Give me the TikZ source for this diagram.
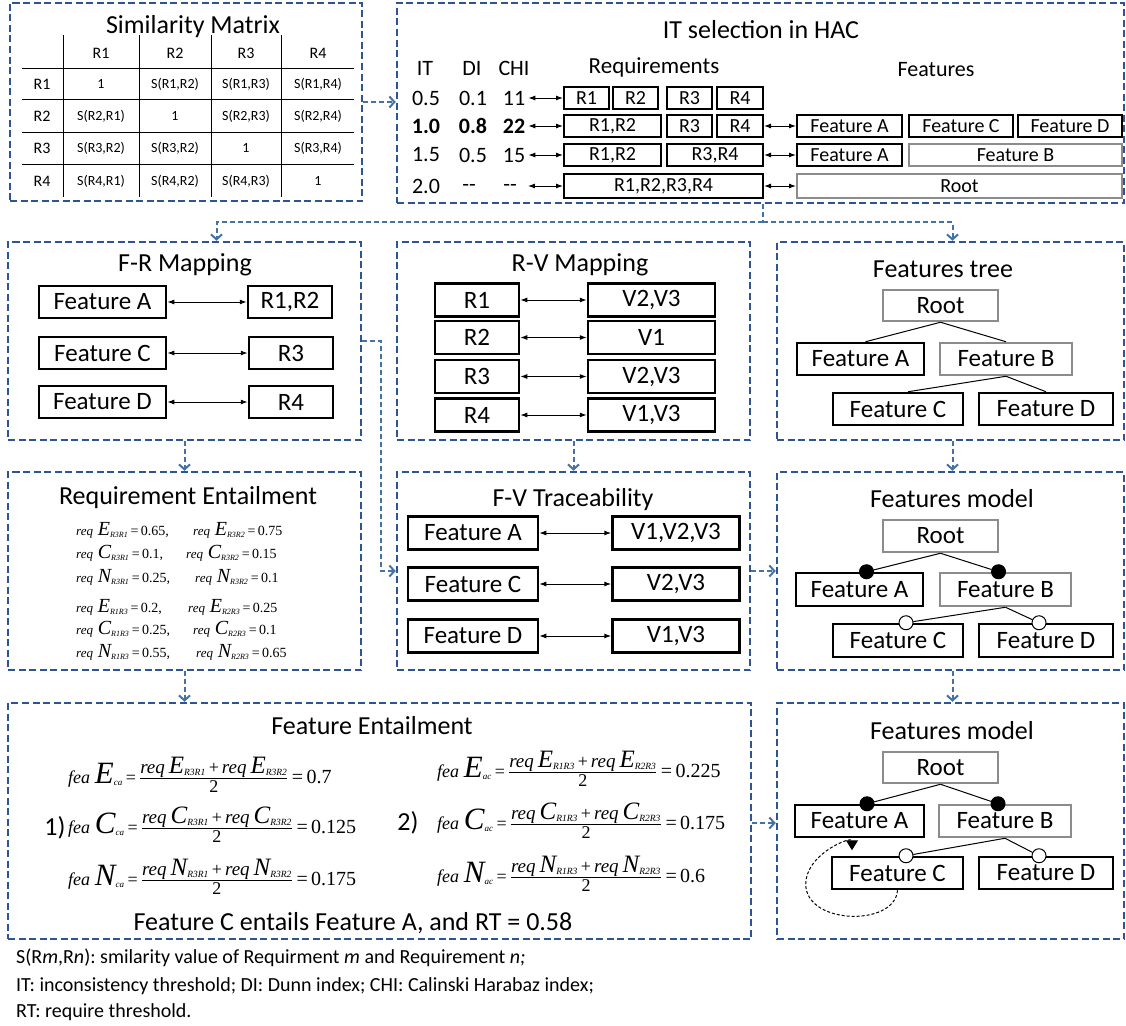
\documentclass[tikz,border=0pt]{standalone}
\usepackage{amsmath}
\usepackage{fontspec}
\setmainfont{Carlito}
\newfontfamily\tmsfont{Liberation Serif}
\usetikzlibrary{arrows.meta, positioning}
\definecolor{PanelBlue}{RGB}{47,84,150}
\definecolor{LinkBlue}{RGB}{68,114,165}
\definecolor{BoxGray}{RGB}{140,140,140}
\newcommand{\fsz}[1]{\fontsize{#1}{#1}\selectfont}
% Times pieces for the formulas
\newcommand{\tmi}[2]{\text{\tmsfont\itshape\fontsize{#1}{#1}\selectfont #2}}
\newcommand{\tmu}[2]{\text{\tmsfont\fontsize{#1}{#1}\selectfont #2}}
\newcommand{\reqv}[2]{\tmi{13}{req}\mkern6mu\tmi{20}{#1}_{\tmi{8}{#2}}}
\newcommand{\numv}[2]{\tmi{19}{req}\mkern6mu\tmi{25}{#1}_{\tmi{9.5}{#2}}}
\newcommand{\feav}[2]{\tmi{18}{fea}\mkern5mu\tmi{31}{#1}_{\tmi{9}{#2}}}
\newcommand{\avgv}[3]{\genfrac{}{}{1pt}{1}{\numv{#1}{#2}\tmu{18}{\,+\,}\numv{#1}{#3}}{\tmu{18}{2}}}
\tikzset{
  panel/.style={draw=PanelBlue, line width=2.5pt, dash pattern=on 7pt off 3.5pt, inner sep=0pt},
  link/.style={draw=LinkBlue, line width=2pt, dash pattern=on 5pt off 3pt,
    -{Straight Barb[length=5pt,width=11pt]}},
  ttl/.style={font=\fsz{26}},
  fbox/.style={draw, line width=2.5pt, inner sep=0pt, minimum height=32pt, font=\fsz{25}},
  gfbox/.style={fbox, draw=BoxGray},
  ibox/.style={draw, line width=2pt, inner sep=0pt, minimum height=22pt, font=\fsz{20}},
  gibox/.style={ibox, draw=BoxGray},
  itval/.style={font=\fsz{22}, inner sep=0pt},
  map/.style={line width=1pt, {Latex[length=7pt,width=5pt]}-{Latex[length=7pt,width=5pt]}},
  tree/.style={line width=1pt},
  hdr/.style={font=\fsz{16}},
  cell/.style={font=\fsz{14}},
  grid/.style={line width=1pt},
  fml/.style={inner sep=0pt, anchor=base west},
  mand/.style={circle, draw, line width=1pt, fill=black, minimum size=14pt, inner sep=0pt},
  opt/.style={mand, fill=white},
  note/.style={font=\fsz{20}\frenchspacing, anchor=west, inner sep=0pt}
}

\begin{document}
\begin{tikzpicture}[x=1pt, y=-1pt]
\useasboundingbox (0,0) rectangle (1126,1025);

% panels
\node[panel, minimum width=352pt, minimum height=198pt] (sim) at (186,102) {};
\node[panel, minimum width=727pt, minimum height=200pt] (it)  at (760.5,103) {};
\node[panel, minimum width=353pt, minimum height=198pt] (fr)  at (184.5,341) {};
\node[panel, minimum width=353pt, minimum height=198pt] (rv)  at (573.5,341) {};
\node[panel, minimum width=347pt, minimum height=198pt] (ft)  at (950.5,341) {};
\node[panel, minimum width=353pt, minimum height=198pt] (re)  at (184.5,571) {};
\node[panel, minimum width=353pt, minimum height=198pt] (fv)  at (573.5,571) {};
\node[panel, minimum width=347pt, minimum height=198pt] (fma) at (950.5,571) {};
\node[panel, minimum width=743pt, minimum height=236pt] (fe)  at (379.5,821) {};
\node[panel, minimum width=347pt, minimum height=236pt] (fmb) at (950.5,821) {};

% similarity matrix
\node[ttl] (simT) at (193,27) {Similarity Matrix};
\foreach \x in {63,139,211,281} \draw[grid] (\x,35) -- (\x,197);
\foreach \y in {68,99,132,164} \draw[grid] (22,\y) -- (354,\y);
\foreach \lab/\x in {R1/101,R2/175,R3/246,R4/318} \node[hdr] (col\lab) at (\x,53) {\lab};
\foreach \lab/\y in {R1/84,R2/116,R3/148,R4/181} \node[hdr] (row\lab) at (42,\y) {\lab};
\foreach \y/\r/\sa/\sb/\sc/\sd in {
    84/1/1/{S(R1,R2)}/{S(R1,R3)}/{S(R1,R4)},
    116/2/{S(R2,R1)}/1/{S(R2,R3)}/{S(R2,R4)},
    148/3/{S(R3,R2)}/{S(R3,R2)}/1/{S(R3,R4)},
    181/4/{S(R4,R1)}/{S(R4,R2)}/{S(R4,R3)}/1} {
  \node[cell] (s\r a) at (101,\y) {\sa};
  \node[cell] (s\r b) at (175,\y) {\sb};
  \node[cell] (s\r c) at (246,\y) {\sc};
  \node[cell] (s\r d) at (318,\y) {\sd};
}

% IT selection in HAC
\node[ttl] (itT) at (761,30) {IT selection in HAC};
\node[itval] (hIT)  at (425,68) {IT};
\node[itval] (hDI)  at (472,68) {DI};
\node[itval] (hCHI) at (514,68) {CHI};
\node[font=\fsz{23}] (hReq)  at (654,67) {Requirements};
\node[font=\fsz{22}] (hFeat) at (936,70) {Features};

\node[itval] (ita) at (426,98) {0.5};
\node[itval] (dia) at (473,98) {0.1};
\node[itval] (chia) at (514,98) {11};
\node[itval, font=\fsz{22}\bfseries] (itb) at (426,126) {1.0};
\node[itval, font=\fsz{22}\bfseries] (dib) at (473,126) {0.8};
\node[itval, font=\fsz{22}\bfseries] (chib) at (514,126) {22};
\node[itval] (itc) at (426,155) {1.5};
\node[itval] (dic) at (473,155) {0.5};
\node[itval] (chic) at (514,155) {15};
\node[itval] (itd) at (426,186) {2.0};
\node[itval] (did) at (469,188) {{-}{-}};
\node[itval] (chid) at (510,188) {{-}{-}};

\node[ibox, minimum width=45pt] (ra1) at (586.5,98) {R1};
\node[ibox, minimum width=45pt] (ra2) at (635.5,98) {R2};
\node[ibox, minimum width=45pt] (ra3) at (689.5,98) {R3};
\node[ibox, minimum width=46pt] (ra4) at (740,98) {R4};

\node[ibox, minimum width=97pt]  (rb12) at (612.5,126) {R1,R2};
\node[ibox, minimum width=45pt]  (rb3)  at (689.5,126) {R3};
\node[ibox, minimum width=46pt]  (rb4)  at (740,126) {R4};
\node[ibox, minimum width=105pt] (fbA)  at (849.5,126) {Feature A};
\node[ibox, minimum width=104pt] (fbC)  at (961,126) {Feature C};
\node[ibox, minimum width=104pt] (fbD)  at (1070,126) {Feature D};

\node[ibox, minimum width=97pt]   (rc12) at (612.5,155) {R1,R2};
\node[ibox, minimum width=96pt]   (rc34) at (715,155) {R3,R4};
\node[ibox, minimum width=105pt]  (fcA)  at (849.5,155) {Feature A};
\node[gibox, minimum width=213pt] (fcB)  at (1015.5,155) {Feature B};

\node[ibox, minimum width=199pt, minimum height=24pt]  (rd)    at (663.5,186) {R1,R2,R3,R4};
\node[gibox, minimum width=325pt, minimum height=24pt] (fdRt)  at (959.5,186) {Root};

\draw[map] ([xshift=3pt]chia.east) -- (ra1.west);
\draw[map] ([xshift=3pt]chib.east) -- (rb12.west);
\draw[map] ([xshift=3pt]chic.east) -- (rc12.west);
\draw[map] ([xshift=11pt,yshift=2pt]chid.east) -- (rd.west);
\draw[map] (rb4.east) -- (fbA.west);
\draw[map] (rc34.east) -- (fcA.west);
\draw[map] (rd.east) -- (fdRt.west);

% F-R mapping
\node[ttl] (frT) at (185,265) {F-R Mapping};
\node[fbox, minimum width=127pt] (frA) at (102.5,302) {Feature A};
\node[fbox, minimum width=84pt]  (fr1) at (290,302) {R1,R2};
\node[fbox, minimum width=127pt] (frC) at (102.5,353) {Feature C};
\node[fbox, minimum width=84pt]  (fr3) at (291,353) {R3};
\node[fbox, minimum width=127pt] (frD) at (102.5,402) {Feature D};
\node[fbox, minimum width=84pt]  (fr4) at (291,402) {R4};
\draw[map] (frA) -- (fr1);
\draw[map] (frC) -- (fr3);
\draw[map] (frD) -- (fr4);

% R-V mapping
\node[ttl] (rvT) at (580,265) {R-V Mapping};
\node[fbox, minimum width=84pt, minimum height=33pt]  (rv1)  at (477,300) {R1};
\node[fbox, minimum width=127pt, minimum height=33pt] (rvV1) at (651.5,300) {V2,V3};
\node[fbox, minimum width=84pt, minimum height=33pt]  (rv2)  at (477,337.5) {R2};
\node[fbox, minimum width=127pt, minimum height=33pt] (rvV2) at (651.5,337.5) {V1};
\node[fbox, minimum width=84pt, minimum height=33pt]  (rv3)  at (477,376.5) {R3};
\node[fbox, minimum width=127pt, minimum height=33pt] (rvV3) at (651.5,376.5) {V2,V3};
\node[fbox, minimum width=84pt, minimum height=33pt]  (rv4)  at (477,415) {R4};
\node[fbox, minimum width=127pt, minimum height=33pt] (rvV4) at (651.5,415) {V1,V3};
\foreach \i in {1,...,4} \draw[map] (rv\i) -- (rvV\i);

% Features tree
\node[ttl] (ftT) at (943,269) {Features tree};
\node[gfbox, minimum width=115pt, minimum height=31pt] (ftR) at (940.5,305.5) {Root};
\node[fbox, minimum width=127pt]  (ftA) at (860.5,359) {Feature A};
\node[gfbox, minimum width=132pt] (ftB) at (1006,359) {Feature B};
\node[fbox, minimum width=130pt]  (ftC) at (898,409) {Feature C};
\node[fbox, minimum width=134pt]  (ftD) at (1046,409) {Feature D};
\draw[tree] (ftR.south) -- ([xshift=5pt]ftA.north);
\draw[tree] (ftR.south) -- (ftB.north);
\draw[tree] (ftB.south) -- ([xshift=10pt]ftC.north);
\draw[tree] (ftB.south) -- (ftD.north);

% Requirement entailment
\node[ttl] (reT) at (188,498) {Requirement Entailment};
\node[fml, font=\fsz{14}] (re1a) at (76,535) {$\reqv{E}{R3R1}\tmu{14}{\,=\,0.65,}$};
\node[fml, font=\fsz{14}] (re1b) at (193,535) {$\reqv{E}{R3R2}\tmu{14}{\,=\,0.75}$};
\node[fml, font=\fsz{14}] (re2a) at (76,558) {$\reqv{C}{R3R1}\tmu{14}{\,=\,0.1,}$};
\node[fml, font=\fsz{14}] (re2b) at (186,558) {$\reqv{C}{R3R2}\tmu{14}{\,=\,0.15}$};
\node[fml, font=\fsz{14}] (re3a) at (76,582) {$\reqv{N}{R3R1}\tmu{14}{\,=\,0.25,}$};
\node[fml, font=\fsz{14}] (re3b) at (195,582) {$\reqv{N}{R3R2}\tmu{14}{\,=\,0.1}$};
\node[fml, font=\fsz{14}] (re4a) at (76,612) {$\reqv{E}{R1R3}\tmu{14}{\,=\,0.2,}$};
\node[fml, font=\fsz{14}] (re4b) at (188,612) {$\reqv{E}{R2R3}\tmu{14}{\,=\,0.25}$};
\node[fml, font=\fsz{14}] (re5a) at (76,634) {$\reqv{C}{R1R3}\tmu{14}{\,=\,0.25,}$};
\node[fml, font=\fsz{14}] (re5b) at (193,634) {$\reqv{C}{R2R3}\tmu{14}{\,=\,0.1}$};
\node[fml, font=\fsz{14}] (re6a) at (76,657) {$\reqv{N}{R1R3}\tmu{14}{\,=\,0.55,}$};
\node[fml, font=\fsz{14}] (re6b) at (196,657) {$\reqv{N}{R2R3}\tmu{14}{\,=\,0.65}$};

% F-V traceability
\node[ttl] (fvT) at (573,500) {F-V Traceability};
\node[fbox, minimum width=130pt, minimum height=33pt] (fvA)  at (473,533) {Feature A};
\node[fbox, minimum width=127pt, minimum height=33pt] (fvVA) at (676,533) {V1,V2,V3};
\node[fbox, minimum width=130pt, minimum height=33pt] (fvC)  at (473,584) {Feature C};
\node[fbox, minimum width=127pt, minimum height=33pt] (fvVC) at (676,584) {V2,V3};
\node[fbox, minimum width=130pt, minimum height=33pt] (fvD)  at (473,636) {Feature D};
\node[fbox, minimum width=127pt, minimum height=33pt] (fvVD) at (676,636) {V1,V3};
\draw[map] (fvA) -- (fvVA);
\draw[map] (fvC) -- (fvVC);
\draw[map] (fvD) -- (fvVD);

% Features model (first)
\node[ttl] (fmaT) at (952,499) {Features model};
\node[gfbox, minimum width=115pt] (fmaR) at (940.5,536) {Root};
\node[fbox, minimum width=127pt, minimum height=33pt]  (fmaA) at (859.5,589.5) {Feature A};
\node[gfbox, minimum width=131pt, minimum height=33pt] (fmaB) at (1005.5,589.5) {Feature B};
\node[fbox, minimum width=130pt, minimum height=33pt]  (fmaC) at (898,640.5) {Feature C};
\node[fbox, minimum width=134pt, minimum height=33pt]  (fmaD) at (1046,640.5) {Feature D};
\node[mand] (fmaDA) at ([xshift=7pt]fmaA.north) {};
\node[mand] (fmaDB) at ([xshift=-7pt]fmaB.north) {};
\node[opt]  (fmaDC) at ([xshift=8pt]fmaC.north) {};
\node[opt]  (fmaDD) at ([xshift=-7pt]fmaD.north) {};
\draw[tree] (fmaR.south) -- (fmaDA);
\draw[tree] (fmaR.south) -- (fmaDB);
\draw[tree] (fmaB.south) -- (fmaDC);
\draw[tree] (fmaB.south) -- (fmaDD);

% Feature entailment
\node[ttl] (feT) at (372,726) {Feature Entailment};
\node[ttl] (fe1) at (55,828) {1)};
\node[ttl] (fe2) at (408,823) {2)};
\node[fml, font=\fsz{18}] (feEca) at (68,783) {$\feav{E}{ca}\tmu{18}{\,=\,}\avgv{E}{R3R1}{R3R2}\tmu{20}{\,=\,0.7}$};
\node[fml, font=\fsz{18}] (feCca) at (68,833) {$\feav{C}{ca}\tmu{18}{\,=\,}\avgv{C}{R3R1}{R3R2}\tmu{20}{\,=\,0.125}$};
\node[fml, font=\fsz{18}] (feNca) at (68,885) {$\feav{N}{ca}\tmu{18}{\,=\,}\avgv{N}{R3R1}{R3R2}\tmu{20}{\,=\,0.175}$};
\node[fml, font=\fsz{18}] (feEac) at (437,777) {$\feav{E}{ac}\tmu{18}{\,=\,}\avgv{E}{R1R3}{R2R3}\tmu{20}{\,=\,0.225}$};
\node[fml, font=\fsz{18}] (feCac) at (437,829) {$\feav{C}{ac}\tmu{18}{\,=\,}\avgv{C}{R1R3}{R2R3}\tmu{20}{\,=\,0.175}$};
\node[fml, font=\fsz{18}] (feNac) at (437,882) {$\feav{N}{ac}\tmu{18}{\,=\,}\avgv{N}{R1R3}{R2R3}\tmu{20}{\,=\,0.6}$};
\node[ttl] (feRes) at (353,923) {Feature C entails Feature A, and RT = 0.58};

% Features model (second)
\node[ttl] (fmbT) at (952,731) {Features model};
\node[gfbox, minimum width=115pt, minimum height=31pt] (fmbR) at (940.5,767.5) {Root};
\node[fbox, minimum width=129pt]  (fmbA) at (859.5,821) {Feature A};
\node[gfbox, minimum width=132pt] (fmbB) at (1005,821) {Feature B};
\node[fbox, minimum width=131pt]  (fmbC) at (897.5,873) {Feature C};
\node[fbox, minimum width=134pt]  (fmbD) at (1046,873) {Feature D};
\node[mand] (fmbDA) at ([xshift=7.5pt]fmbA.north) {};
\node[mand] (fmbDB) at ([xshift=-7pt]fmbB.north) {};
\node[opt]  (fmbDC) at ([xshift=8.5pt]fmbC.north) {};
\node[opt]  (fmbDD) at ([xshift=-7pt]fmbD.north) {};
\draw[tree] (fmbR.south) -- (fmbDA);
\draw[tree] (fmbR.south) -- (fmbDB);
\draw[tree] (fmbB.south) -- (fmbDC);
\draw[tree] (fmbB.south) -- (fmbDD);
\coordinate (reqEnd) at ([xshift=-7.5pt,yshift=-12pt]fmbA.south);
\draw[line width=1pt, dash pattern=on 3pt off 2pt, -{Triangle[length=10pt,width=12pt]}]
  (fmbC.south) .. controls (895,928) and (800,925) .. (806,880)
  .. controls (810,852) and (852,836) .. (reqEnd);

% connectors between panels
\coordinate (hub) at (763,222);
\draw[link] (sim.east) -- (sim.east -| it.west);
\draw[link, -] (it.south -| hub) -- (hub);
\draw[link] (hub) -| ([xshift=32pt]fr.north);
\draw[link] (hub) -| ([xshift=2pt]ft.north);
\draw[link] (fr.east) -- ++(19,0) |- (fv.west);
\draw[link] (fr.south) -- (re.north);
\draw[link] (rv.south) -- (fv.north);
\draw[link] ([xshift=2pt]ft.south) -- ([xshift=2pt]fma.north);
\draw[link] (fv.east) -- (fma.west);
\draw[link] (re.south) -- (re.south |- fe.north);
\draw[link] ([xshift=2pt]fma.south) -- ([xshift=2pt]fmb.north);
\draw[link] ([yshift=-2pt]fe.east) -- ([yshift=-2pt]fmb.west);

% notes
\node[note] (n1) at (16,958) {S(R\textit{m},R\textit{n}): smilarity value of Requirment \textit{m} and Requirement \textit{n;}};
\node[note] (n2) at (16,986) {IT: inconsistency threshold; DI: Dunn index; CHI: Calinski Harabaz index;};
\node[note] (n3) at (16,1012) {RT: require threshold.};
\end{tikzpicture}
\end{document}
